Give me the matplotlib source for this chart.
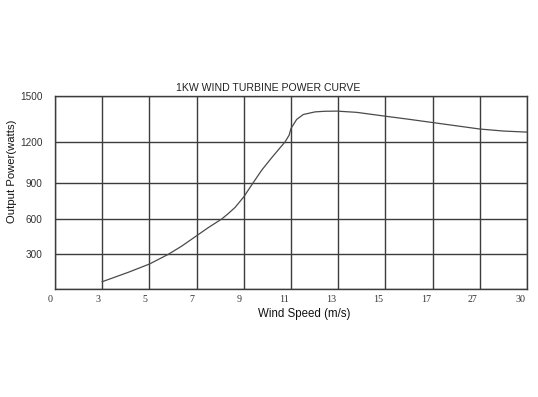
import numpy as np
import matplotlib
matplotlib.use("Agg")
import matplotlib.pyplot as plt
from matplotlib import transforms
from matplotlib.ticker import FixedLocator, FixedFormatter

# ---- data ----
x_ticks = [0, 3, 5, 7, 9, 11, 13, 15, 17, 27, 30]
y_ticks = [0, 300, 600, 900, 1200, 1500]
y_tick_labels = ["", "300", "600", "900", "1200", "1500"]
# relative heights of the (non-uniform) y gridlines in the original chart
y_tick_pos = [0, 34.7, 70.0, 105.7, 147.3, 193.7]

wind = [3, 4.1, 5, 5.8, 6.37, 7, 7.5, 8.06, 8.34, 8.63, 9, 9.33, 9.76, 10.18, 10.53, 10.75,
        10.92, 11.0, 11.24, 11.52, 12.02, 12.44, 12.94, 13.78, 15, 16, 17, 22, 27, 28.5, 30]
power = [63, 144, 216, 300, 370, 458, 528, 600, 646, 698, 787, 886, 996, 1085, 1156, 1200,
         1243, 1287, 1345, 1377, 1394, 1398, 1399, 1391, 1366, 1346, 1325, 1304, 1283, 1270, 1263]

title = "1KW WIND TURBINE POWER CURVE"
xlabel = "Wind Speed (m/s)"
ylabel = "Output Power(watts)"


def piecewise(src, dst):
    src = np.asarray(src, float)
    dst = np.asarray(dst, float)

    def f(v):
        v = np.asarray(v, float)
        out = np.interp(v, src, dst)
        s0 = (dst[1] - dst[0]) / (src[1] - src[0])
        s1 = (dst[-1] - dst[-2]) / (src[-1] - src[-2])
        out = np.where(v < src[0], dst[0] + (v - src[0]) * s0, out)
        out = np.where(v > src[-1], dst[-1] + (v - src[-1]) * s1, out)
        return out
    return f


x_idx = list(range(len(x_ticks)))
fx = piecewise(x_ticks, x_idx)
fxi = piecewise(x_idx, x_ticks)
fy = piecewise(y_ticks, y_tick_pos)
fyi = piecewise(y_tick_pos, y_ticks)

fig = plt.figure(figsize=(5.38, 3.97), dpi=100)
ax = fig.add_axes([55 / 538, 1 - 289 / 397, 472 / 538, 193.5 / 397])
ax.set_xscale("function", functions=(fx, fxi))
ax.set_yscale("function", functions=(fy, fyi))
ax.set_xlim(0, 30)
ax.set_ylim(0, 1500)

grid_c = "#3c3c3c"
ax.xaxis.set_major_locator(FixedLocator(x_ticks))
ax.xaxis.set_major_formatter(FixedFormatter([str(t) for t in x_ticks]))
ax.yaxis.set_major_locator(FixedLocator(y_ticks))
ax.yaxis.set_major_formatter(FixedFormatter(y_tick_labels))
ax.xaxis.set_minor_locator(FixedLocator([]))
ax.yaxis.set_minor_locator(FixedLocator([]))
ax.tick_params(axis="both", length=0, labelcolor="#333333", labelsize=7.2)
ax.tick_params(axis="y", pad=9)
ax.tick_params(axis="x", pad=4)

fig.canvas.draw()
offset = transforms.ScaledTranslation(-2 / 100, 0, fig.dpi_scale_trans)
for t in ax.xaxis.get_major_ticks():
    t.label1.set_fontfamily("Liberation Serif")
    t.label1.set_horizontalalignment("right")
    t.label1.set_transform(t.label1.get_transform() + offset)
for t in ax.yaxis.get_major_ticks():
    t.label1.set_fontfamily("Liberation Sans")

ax.grid(True, color=grid_c, linewidth=1.0)
for sp in ax.spines.values():
    sp.set_color(grid_c)
    sp.set_linewidth(1.0)

ax.plot(wind, power, color="#4a4a4a", linewidth=0.9, zorder=3)

ax.text(0.451, 1.040, title, transform=ax.transAxes, ha="center", va="center",
        family="Liberation Sans", fontsize=7.6, color="#222222")
ax.text(0.527, -0.130, xlabel, transform=ax.transAxes, ha="center", va="center",
        family="Liberation Sans", fontsize=8.3, color="#111111")
ax.text(-0.091, 0.61, ylabel, transform=ax.transAxes, ha="center", va="center",
        rotation=90, family="Liberation Sans", fontsize=8.1, color="#111111")

fig.savefig("out.png", dpi=100)
